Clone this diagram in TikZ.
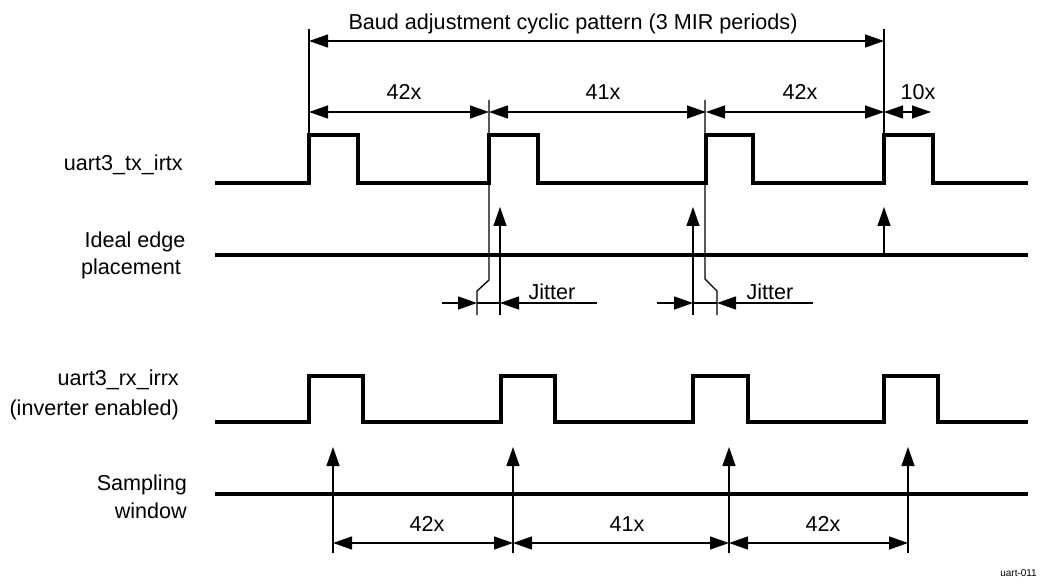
\documentclass[tikz,border=0pt]{standalone}
\usepackage{fontspec}
\setmainfont{Liberation Sans}
\usetikzlibrary{arrows.meta}
\begin{document}
\begin{tikzpicture}[x=1pt,y=-1pt,
  sig/.style={line width=4pt,line join=miter},
  thin/.style={line width=1.3pt},
  dim/.style={thin,{Triangle[length=19pt,width=13pt]}-{Triangle[length=19pt,width=13pt]}},
  tipr/.style={thin,-{Triangle[length=19pt,width=13pt]}},
  lbl/.style={font=\fontsize{21.6}{25}\selectfont,inner sep=0pt},
  ]
\useasboundingbox (0,0) rectangle (1041,585);
% --- signals
\draw[sig] (215,183) -- (309,183) -- (309,135) -- (358,135) -- (358,183) -- (489,183) -- (489,135) -- (538,135) -- (538,183)
  -- (706,183) -- (706,135) -- (753,135) -- (753,183) -- (884,183) -- (884,135) -- (933,135) -- (933,183) -- (1028,183);
\draw[sig] (215,255) -- (1028,255);
\draw[sig] (215,422) -- (309,422) -- (309,376) -- (363,376) -- (363,422) -- (501,422) -- (501,376) -- (555,376) -- (555,422)
  -- (693,422) -- (693,376) -- (748,376) -- (748,422) -- (884,422) -- (884,376) -- (938,376) -- (938,422) -- (1028,422);
\draw[sig] (215,494) -- (1028,494);
% --- labels
\node[lbl,anchor=base east] (ltx) at (183,171) {uart3\_tx\_irtx};
\node[lbl,anchor=base] (lid1) at (135,248) {Ideal edge};
\node[lbl,anchor=base] (lid2) at (131,275) {placement};
\node[lbl,anchor=base east] (lrx1) at (179,385) {uart3\_rx\_irrx};
\node[lbl,anchor=base east] (lrx2) at (179,415) {(inverter enabled)};
\node[lbl,anchor=base east] (ls1) at (187,490) {Sampling};
\node[lbl,anchor=base east] (ls2) at (187,518) {window};
% --- top dimensions
\coordinate (a0) at (309,29); \coordinate (a3) at (884,29);
\draw[thin] (a0) -- (309,135);
\draw[thin] (a3) -- (884,135);
\coordinate (t0) at (309,41); \coordinate (t1) at (884,41);
\draw[dim] (t0) -- (t1);
\node[lbl,anchor=base] (ttl) at (573,30) {Baud adjustment cyclic pattern (3 MIR periods)};
\coordinate (d0) at (309,112); \coordinate (d1) at (489,112); \coordinate (d2) at (706,112);
\coordinate (d3) at (884,112); \coordinate (d4) at (931,112);
\draw[dim] (d0) -- (d1);
\draw[dim] (d1) -- (d2);
\draw[dim] (d2) -- (d3);
\draw[dim] (d3) -- (d4);
\node[lbl,anchor=base] (n1) at (404,100) {42x};
\node[lbl,anchor=base] (n2) at (603,100) {41x};
\node[lbl,anchor=base] (n3) at (800,100) {42x};
\node[lbl,anchor=base] (n4) at (918,100) {10x};
% extension lines with jitter jogs
\draw[thin] (489,100) -- (489,280) -- (477,291) -- (477,315);
\draw[thin] (705,100) -- (705,279) -- (717,291) -- (717,315);
% ideal edge arrows
\coordinate (i1b) at (500,315); \coordinate (i1t) at (500,207);
\coordinate (i2b) at (693,315); \coordinate (i2t) at (693,207);
\coordinate (i3b) at (884,255); \coordinate (i3t) at (884,207);
\draw[tipr] (i1b) -- (i1t);
\draw[tipr] (i2b) -- (i2t);
\draw[tipr] (i3b) -- (i3t);
% jitter dimensions
\coordinate (j1a) at (442,303); \coordinate (j1b) at (477,303); \coordinate (j1c) at (500,303); \coordinate (j1d) at (597,303);
\draw[tipr] (j1a) -- (j1b);
\draw[thin] (j1b) -- (j1c);
\draw[tipr] (j1d) -- (j1c);
\node[lbl,anchor=base] (jt1) at (552,299) {Jitter};
\coordinate (j2a) at (657,303); \coordinate (j2b) at (693,303); \coordinate (j2c) at (717,303); \coordinate (j2d) at (813,303);
\draw[tipr] (j2a) -- (j2b);
\draw[thin] (j2b) -- (j2c);
\draw[tipr] (j2d) -- (j2c);
\node[lbl,anchor=base] (jt2) at (770,299) {Jitter};
% sampling arrows
\foreach \x/\n in {333/s1,513/s2,729/s3,908/s4}{
  \coordinate (\n b) at (\x,553); \coordinate (\n t) at (\x,447);
  \draw[tipr] (\n b) -- (\n t);
}
\coordinate (b1) at (333,543); \coordinate (b2) at (513,543); \coordinate (b3) at (729,543); \coordinate (b4) at (908,543);
\draw[dim] (b1) -- (b2);
\draw[dim] (b2) -- (b3);
\draw[dim] (b3) -- (b4);
\node[lbl,anchor=base] (m1) at (427,531) {42x};
\node[lbl,anchor=base] (m2) at (627,531) {41x};
\node[lbl,anchor=base] (m3) at (823,531) {42x};
\node[font=\fontsize{10}{12}\selectfont,inner sep=0pt,anchor=base east] (tag) at (1037,576) {uart-011};
\end{tikzpicture}
\end{document}
